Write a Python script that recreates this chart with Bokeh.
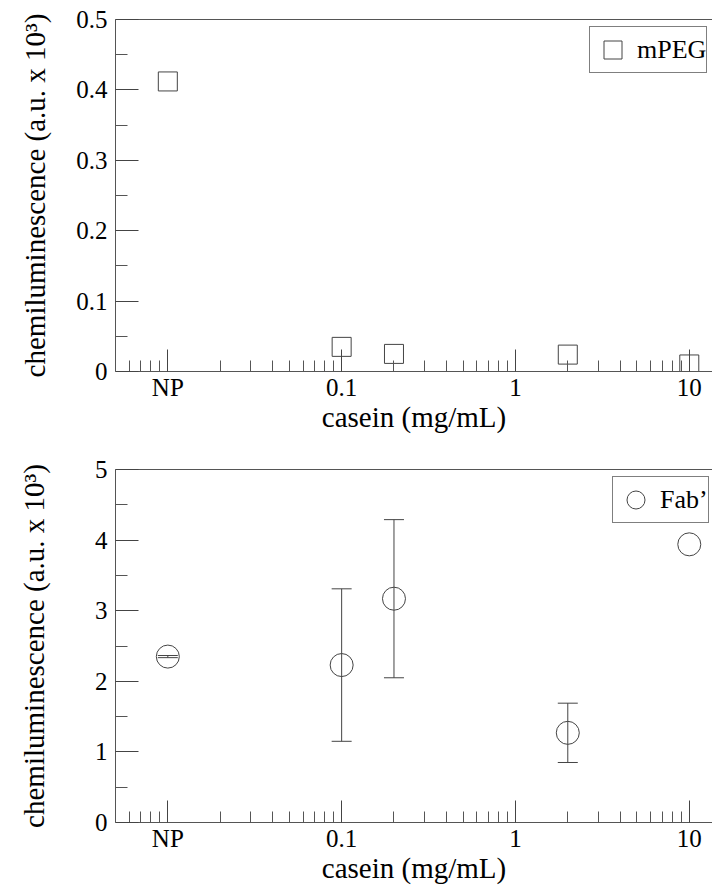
from bokeh.plotting import figure
from bokeh.models import (Range1d, FixedTicker, CustomJSTickFormatter, Whisker, TeeHead,
                          ColumnDataSource, Legend, LegendItem, LogAxis)
from bokeh.layouts import column
from bokeh.embed import file_html
from bokeh.resources import INLINE

# ---- data ----
casein = [0.01, 0.1, 0.2, 2, 10]          # "NP" is plotted at 0.01
mpeg = [0.412, 0.035, 0.025, 0.024, 0.010]
fab = [2.35, 2.23, 3.17, 1.27, 3.94]
fab_err = [0.015, 1.08, 1.12, 0.42, 0.0]

x_major = [0.01, 0.1, 1, 10]
x_minor = [0.006, 0.007, 0.008, 0.009,
           0.02, 0.03, 0.04, 0.05, 0.06, 0.07, 0.08, 0.09,
           0.2, 0.3, 0.4, 0.5, 0.6, 0.7, 0.8, 0.9,
           2, 3, 4, 5, 6, 7, 8, 9]
y1_major = [0, 0.1, 0.2, 0.3, 0.4, 0.5]
y1_minor = [0.05, 0.15, 0.25, 0.35, 0.45]
y2_major = [0, 1, 2, 3, 4, 5]
y2_minor = [0.5, 1.5, 2.5, 3.5, 4.5]

FONT = "Liberation Serif"
LINE = "#444444"
AXIS = "#555555"
TICK_FS = "25px"
LABEL_FS = "29px"


def make_fig(height, ymax, ymaj, ymin, border_top, border_bottom, ylab_standoff):
    p = figure(width=712, height=height, x_axis_type="log",
               x_range=Range1d(0.005, 13.6), y_range=Range1d(0, ymax),
               output_backend="svg", toolbar_location=None,
               min_border_left=115, min_border_right=0,
               min_border_top=border_top, min_border_bottom=border_bottom)
    p.outline_line_color = None
    p.grid.visible = False
    p.background_fill_color = "white"

    xa = p.xaxis[0]
    xa.ticker = FixedTicker(ticks=x_major, minor_ticks=x_minor)
    xa.formatter = CustomJSTickFormatter(
        code="return (Math.abs(tick - 0.01) < 1e-12) ? 'NP' : String(tick);")
    xa.axis_label = "casein (mg/mL)"

    ya = p.yaxis[0]
    ya.ticker = FixedTicker(ticks=ymaj, minor_ticks=ymin)
    ya.formatter = CustomJSTickFormatter(code="return String(Math.round(tick*100)/100);")
    ya.axis_label = "chemiluminescence (a.u. x 10³)"
    ya.axis_label_standoff = ylab_standoff

    for ax in (xa, ya):
        ax.axis_line_color = AXIS
        ax.major_tick_line_color = LINE
        ax.minor_tick_line_color = AXIS
        ax.major_tick_out = 0
        ax.minor_tick_out = 0
        ax.major_label_text_font = FONT
        ax.major_label_text_font_size = TICK_FS
        ax.major_label_text_color = "black"
        ax.axis_label_text_font = FONT
        ax.axis_label_text_font_size = LABEL_FS
        ax.axis_label_text_font_style = "normal"
        ax.axis_label_text_color = "black"
    xa.major_tick_in = 22
    xa.minor_tick_in = 11
    xa.major_label_standoff = 2
    xa.axis_label_standoff = -3
    ya.major_tick_in = 23
    ya.minor_tick_in = 12
    ya.major_label_standoff = 8

    top = LogAxis(ticker=FixedTicker(ticks=[]), major_tick_in=0, major_tick_out=0,
                  minor_tick_in=0, minor_tick_out=0, major_label_text_font_size="0px",
                  axis_line_color=AXIS, major_label_standoff=0)
    p.add_layout(top, "above")
    return p


def make_legend(label, renderer, loc):
    return Legend(items=[LegendItem(label=label, renderers=[renderer])], location=loc,
                  glyph_width=45, glyph_height=45, padding=0, margin=0, label_standoff=2,
                  spacing=0, label_text_font=FONT, label_text_font_size="26px",
                  label_text_color="black", border_line_color="black",
                  border_line_width=1, background_fill_alpha=1)


# ---- top panel: mPEG ----
p1 = make_fig(436, 0.5, y1_major, y1_minor, 19, 65, 22)
src1 = ColumnDataSource(dict(x=casein, y=mpeg))
r1 = p1.scatter("x", "y", source=src1, marker="square", size=19,
                fill_color=None, line_color=LINE, line_width=1)
p1.add_layout(make_legend("mPEG", r1, (474, 298)))

# ---- bottom panel: Fab' ----
p2 = make_fig(451, 5, y2_major, y2_minor, 33, 65, 42)
src2 = ColumnDataSource(dict(x=casein, y=fab))
wx = [c for c, e in zip(casein, fab_err) if e > 0]
wy = [v for v, e in zip(fab, fab_err) if e > 0]
we = [e for e in fab_err if e > 0]
wsrc = ColumnDataSource(dict(x=wx,
                             upper=[v + e for v, e in zip(wy, we)],
                             lower=[v - e for v, e in zip(wy, we)]))
wh = Whisker(base="x", upper="upper", lower="lower", source=wsrc, dimension="height",
             line_color=LINE, line_width=1,
             upper_head=TeeHead(size=20, line_color=LINE, line_width=1),
             lower_head=TeeHead(size=20, line_color=LINE, line_width=1))
p2.add_layout(wh)
r2 = p2.scatter("x", "y", source=src2, marker="circle", size=23,
                fill_color=None, line_color=LINE, line_width=1)
p2.add_layout(make_legend("Fab\u2019", r2, (497, 299)))

layout = column(p1, p2, spacing=0)
open("out.html", "w").write(file_html(layout, INLINE))
